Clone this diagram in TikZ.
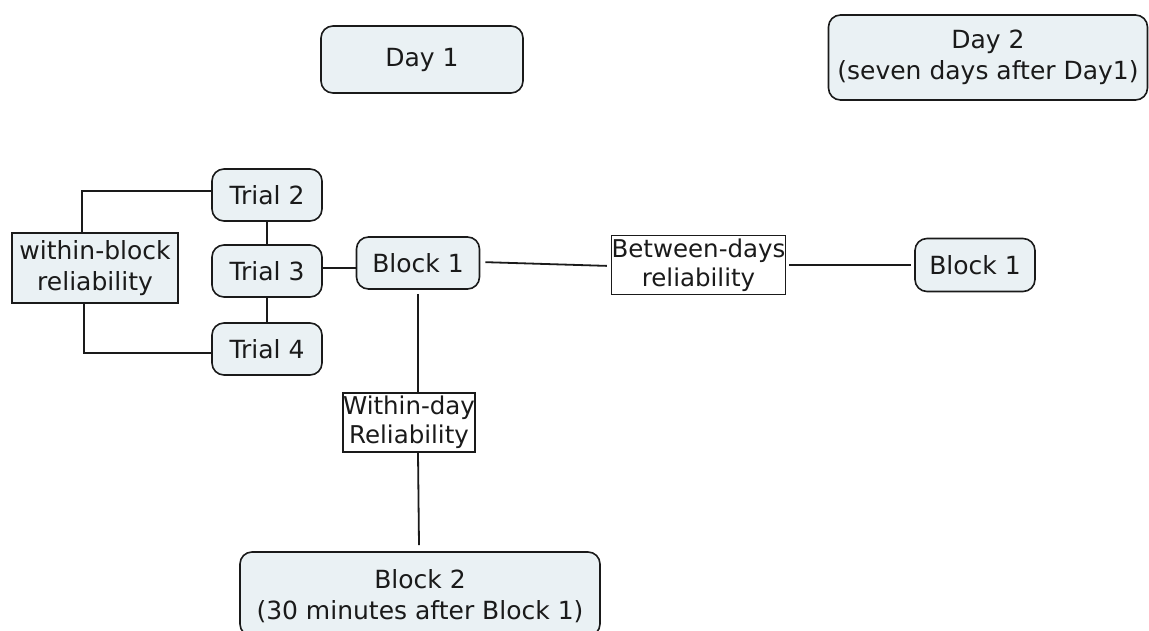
\documentclass[tikz,border=0pt]{standalone}
\usepackage{fontspec}
\setmainfont{DejaVu Sans}
\definecolor{boxfill}{HTML}{EAF1F4}
\definecolor{edge}{HTML}{1A1A1A}
\begin{document}
\begin{tikzpicture}[x=1pt,y=-1pt,
  every node/.style={font=\fontsize{25}{31}\selectfont, text=edge, inner sep=0pt, align=center},
  rbox/.style={draw=edge, line width=1.6pt, fill=boxfill, rounded corners=12pt},
  sqbox/.style={draw=edge, line width=1.6pt, fill=boxfill},
  wbox/.style={draw=edge, line width=1.6pt, fill=white, font=\fontsize{24.5}{29}\selectfont},
  conn/.style={draw=edge, line width=1.8pt}]
\useasboundingbox (0,0) rectangle (1149,630);
\clip (0,0) rectangle (1149,630);
\node[rbox, minimum width=202pt, minimum height=67pt] (day1) at (422,59.5) {Day 1};
\node[rbox, minimum width=319pt, minimum height=85pt] (day2) at (988,57.5) {Day 2\\(seven days after Day1)};
\node[rbox, minimum width=110pt, minimum height=52pt] (t2) at (267,195) {Trial 2};
\node[rbox, minimum width=110pt, minimum height=52pt] (t3) at (267,271) {Trial 3};
\node[rbox, minimum width=110pt, minimum height=52pt] (t4) at (267,349) {Trial 4};
\node[sqbox, minimum width=166pt, minimum height=70pt] (wb) at (95,268) {within-block\\reliability};
\node[rbox, minimum width=123pt, minimum height=52pt] (b1l) at (418,263) {Block 1};
\node[wbox, minimum width=173pt, minimum height=59pt] (bd) at (698.5,265) {Between-days\\reliability};
\node[rbox, minimum width=120pt, minimum height=53pt] (b1r) at (975,265) {Block 1};
\node[wbox, minimum width=122pt, minimum height=59pt] (wd) at (409,422.5) {Within-day\\Reliability};
\node[rbox, minimum width=360pt, minimum height=84pt, text depth=0pt] (b2) at (420,594) {Block 2\\(30 minutes after Block 1)};
\draw[conn] ([yshift=4pt]t2.west) -| ([xshift=-13pt]wb.north);
\draw[conn] ([xshift=-11pt]wb.south) |- ([yshift=-4pt]t4.west);
\draw[conn] (t2.south) -- (t3.north);
\draw[conn] (t3.south) -- (t4.north);
\draw[conn] ([yshift=3pt]t3.east) -- ([yshift=-5pt]b1l.west);
\draw[conn, shorten <=5pt, shorten >=4pt] ([yshift=1pt]b1l.east) -- ([yshift=-1pt]bd.west);
\draw[conn, shorten <=3pt, shorten >=3pt] (bd.east) -- (b1r.west);
\draw[conn, shorten <=4pt] (b1l.south) -- ([xshift=9pt]wd.north);
\draw[conn] ([xshift=9pt]wd.south) -- ([xshift=-1pt,yshift=6pt]b2.north);
\end{tikzpicture}
\end{document}
